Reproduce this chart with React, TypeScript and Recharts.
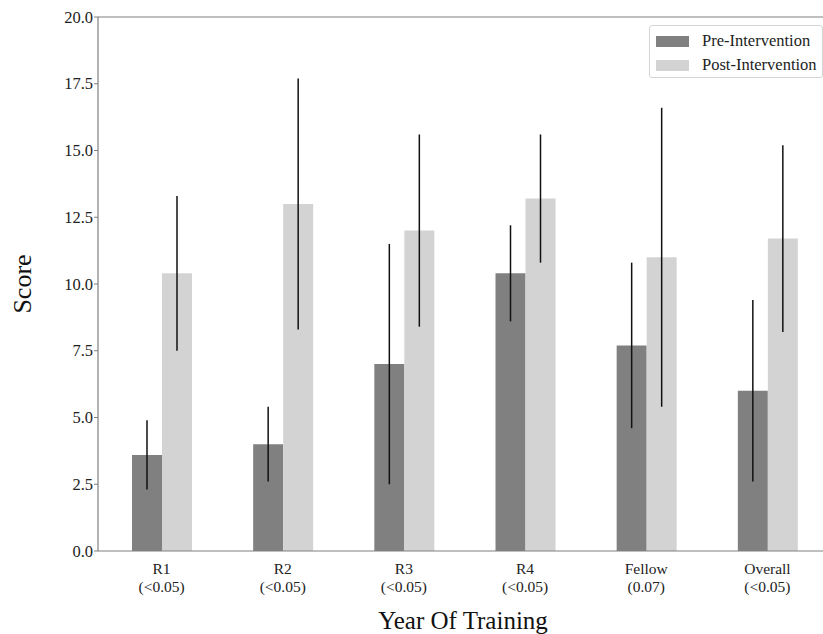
import React from "react";
import {
  Bar,
  BarChart,
  ErrorBar,
  Legend,
  ReferenceLine,
  XAxis,
  YAxis,
} from "recharts";

const categories = ["R1", "R2", "R3", "R4", "Fellow", "Overall"];
const pValues = ["(<0.05)", "(<0.05)", "(<0.05)", "(<0.05)", "(0.07)", "(<0.05)"];
const preScores = [3.6, 4.0, 7.0, 10.4, 7.7, 6.0];
const preErrors = [1.3, 1.4, 4.5, 1.8, 3.1, 3.4];
const postScores = [10.4, 13.0, 12.0, 13.2, 11.0, 11.7];
const postErrors = [2.9, 4.7, 3.6, 2.4, 5.6, 3.5];
const yTicks = [0, 2.5, 5, 7.5, 10, 12.5, 15, 17.5, 20];

const data = categories.map((name, i) => ({
  name,
  p: pValues[i],
  pre: preScores[i],
  preErr: preErrors[i],
  post: postScores[i],
  postErr: postErrors[i],
}));

const FONT = "'Liberation Serif', 'Times New Roman', Times, serif";
const PRE = "#808080";
const POST = "#d3d3d3";
const SPINE = "#808080";

function CategoryTick(props: any) {
  const { x, y, payload } = props;
  const i = categories.indexOf(payload.value);
  return (
    <g transform={`translate(${x},${y})`}>
      <text textAnchor="middle" style={{ fontFamily: FONT, fontSize: 15.5 }} fill="#222">
        <tspan x={0} y={15}>{payload.value}</tspan>
        <tspan x={0} y={33}>{pValues[i]}</tspan>
      </text>
    </g>
  );
}

function ValueTick(props: any) {
  const { x, y, payload } = props;
  return (
    <text
      x={x}
      y={y}
      dy={5.5}
      textAnchor="end"
      style={{ fontFamily: FONT, fontSize: 16.5 }}
      fill="#222"
    >
      {Number(payload.value).toFixed(1)}
    </text>
  );
}

function LegendBox() {
  const rows = [
    { label: "Pre-Intervention", color: PRE },
    { label: "Post-Intervention", color: POST },
  ];
  return (
    <div
      style={{
        width: 174,
        height: 53,
        boxSizing: "border-box",
        border: "1px solid #d6d6d6",
        borderRadius: 3,
        background: "#fff",
        fontFamily: FONT,
        fontSize: 16.5,
        color: "#222",
        position: "relative",
      }}
    >
      {rows.map((r, i) => (
        <div
          key={r.label}
          style={{ position: "absolute", left: 6, top: 6 + i * 24, display: "flex", alignItems: "center" }}
        >
          <span style={{ width: 33, height: 11, background: r.color, display: "inline-block" }} />
          <span style={{ marginLeft: 13, lineHeight: "18px", whiteSpace: "nowrap" }}>{r.label}</span>
        </div>
      ))}
    </div>
  );
}

export default function App() {
  return (
    <div
      style={{
        position: "absolute",
        left: 0,
        top: 0,
        width: 823,
        height: 634,
        overflow: "hidden",
        background: "#fff",
        fontFamily: FONT,
      }}
    >
      <BarChart
        width={833}
        height={634}
        data={data}
        margin={{ top: 17, right: 2, left: 0, bottom: 0 }}
        barSize={30}
        barGap={0}
        style={{ fontFamily: FONT }}
      >
        <XAxis
          dataKey="name"
          height={83}
          padding={{ left: 3, right: 3 }}
          tick={<CategoryTick />}
          tickLine={false}
          axisLine={{ stroke: SPINE, strokeWidth: 1.2 }}
          interval={0}
          label={{
            content: () => (
              <text x={463} y={629} textAnchor="middle" style={{ fontFamily: FONT, fontSize: 25 }} fill="#111">
                Year Of Training
              </text>
            ),
          }}
        />
        <YAxis
          width={98}
          domain={[0, 20]}
          ticks={yTicks}
          tick={<ValueTick />}
          tickSize={4}
          tickMargin={1}
          tickLine={{ stroke: SPINE }}
          axisLine={{ stroke: SPINE, strokeWidth: 1.2 }}
          label={{
            content: () => (
              <text
                x={31}
                y={284}
                transform="rotate(-90, 31, 284)"
                textAnchor="middle"
                style={{ fontFamily: FONT, fontSize: 26 }}
                fill="#111"
              >
                Score
              </text>
            ),
          }}
        />
        <ReferenceLine y={20} stroke={SPINE} strokeWidth={1.2} />
        <Legend
          layout="vertical"
          align="center"
          verticalAlign="middle"
          wrapperStyle={{ top: 25, left: 649, width: 174 }}
          content={() => <LegendBox />}
        />
        <Bar dataKey="pre" name="Pre-Intervention" fill={PRE} isAnimationActive={false}>
          <ErrorBar dataKey="preErr" width={0} stroke="#111" strokeWidth={1.5} />
        </Bar>
        <Bar dataKey="post" name="Post-Intervention" fill={POST} isAnimationActive={false}>
          <ErrorBar dataKey="postErr" width={0} stroke="#111" strokeWidth={1.5} />
        </Bar>
      </BarChart>
    </div>
  );
}
